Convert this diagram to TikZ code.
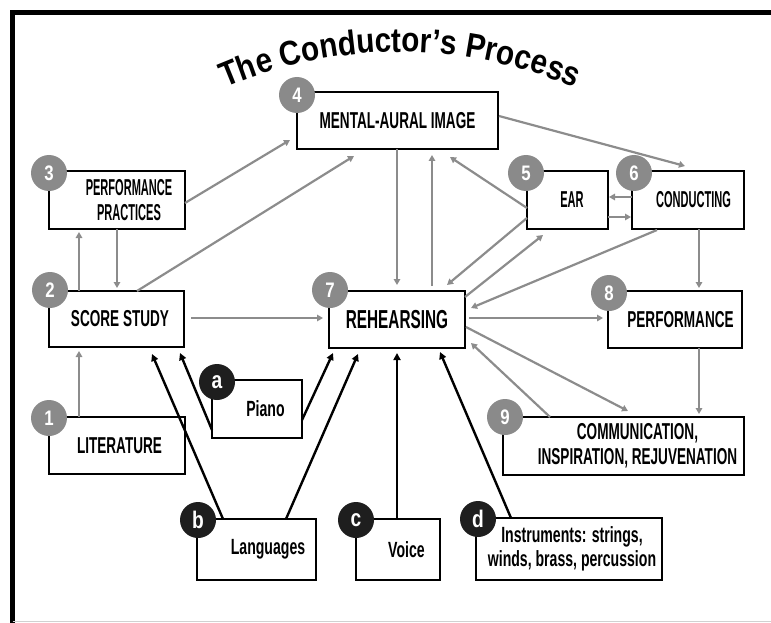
\documentclass[tikz,border=0pt]{standalone}
\usepackage{fontspec}
\newfontfamily\boxfont{Liberation Sans}[FakeStretch=0.59]
\newfontfamily\narrowfont{Liberation Sans}[FakeStretch=0.48]
\newfontfamily\lowfont{Liberation Sans}[FakeStretch=0.64]
\newfontfamily\numfont{Liberation Sans}[FakeStretch=0.8]
\newfontfamily\titlefont{Liberation Sans}[FakeStretch=0.86]
\usetikzlibrary{arrows.meta,calc,decorations.text}
\definecolor{linegray}{HTML}{8C8C8C}
\definecolor{badgegray}{HTML}{8A8A8A}
\definecolor{badgeblack}{HTML}{1E1E1E}

\begin{document}
\begin{tikzpicture}
  [x=1pt,y=-1pt,
   box/.style={draw,line width=1.5pt,inner sep=0pt,outer sep=0pt,align=center,
     font=\boxfont\bfseries\fontsize{23}{25}\selectfont},
   slim/.style={font=\narrowfont\bfseries\fontsize{23}{25}\selectfont},
   lowbox/.style={font=\lowfont\bfseries\fontsize{22}{24}\selectfont},
   num/.style={circle,fill=badgegray,text=white,inner sep=0pt,minimum size=36pt,
     font=\numfont\bfseries\fontsize{21}{21}\selectfont},
   letter/.style={num,fill=badgeblack,font=\numfont\bfseries\fontsize{24}{24}\selectfont},
   garrow/.style={draw=linegray,line width=2.2pt,-{Triangle[length=6pt,width=6.5pt]}},
   barrow/.style={draw=black,line width=2.4pt,-{Triangle[length=7pt,width=7pt]}}]
  \useasboundingbox (0,0) rectangle (771,623);

  % frame
  \draw[line width=5.5pt] (12.5,623) -- (12.5,12.5) -- (771,12.5);
  \draw[black!18,line width=1.5pt] (12.5,621.5) -- (771,621.5);

  % title
  \path[decorate,decoration={text along path,text align=center,
      text={|\titlefont\bfseries\fontsize{34.5}{36}\selectfont|The Conductor’s Process}}]
    (200,99.7) .. controls (325.7,36.1) and (474.3,36.1) .. (600,99.7);

  % boxes
  \node[box,minimum width=201pt,minimum height=57pt] (ma) at (397.5,120.5) {MENTAL-AURAL IMAGE};
  \node[box,slim,minimum width=136pt,minimum height=58pt] (pp) at (117,200)
    {\hspace*{24pt}PERFORMANCE\\\hspace*{24pt}PRACTICES};
  \node[box,slim,minimum width=81pt,minimum height=58pt] (ear) at (567.5,200) {\hspace*{9pt}EAR};
  \node[box,slim,minimum width=112pt,minimum height=58pt] (cond) at (688,200) {\hspace*{11pt}CONDUCTING};
  \node[box,minimum width=135pt,minimum height=56pt] (ss) at (116.5,319) {\hspace*{7pt}SCORE STUDY};
  \node[box,font=\boxfont\bfseries\fontsize{26}{28}\selectfont,minimum width=136pt,minimum height=57pt]
    (reh) at (397,319.5) {REHEARSING};
  \node[box,minimum width=134pt,minimum height=57pt] (perf) at (675,319.5) {\hspace*{11pt}PERFORMANCE};
  \node[box,minimum width=136pt,minimum height=57pt] (lit) at (117,445.5) {\hspace*{5pt}LITERATURE};
  \node[box,minimum width=241pt,minimum height=58pt] (comm) at (623.5,446)
    {\hspace*{28pt}COMMUNICATION,\\\hspace*{28pt}INSPIRATION, REJUVENATION};
  \node[box,lowbox,minimum width=90pt,minimum height=58pt] (piano) at (257,409) {\hspace*{17pt}Piano};
  \node[box,lowbox,minimum width=119pt,minimum height=61pt] (lang) at (256.5,549.5) {\hspace*{23pt}Languages};
  \node[box,lowbox,minimum width=84pt,minimum height=61pt] (voice) at (398,549.5) {\hspace*{17pt}Voice};
  \node[box,lowbox,minimum width=186pt,minimum height=62pt] (instr) at (569,549)
    {\hspace*{6pt}Instruments: strings,\\\hspace*{6pt}winds, brass, percussion};

  % gray connectors
  \draw[garrow] ($(pp.east)+(0,3)$) -- ($(ma.west)+(-7,19.5)$);
  \draw[garrow] ($(ss.north)+(20.5,0)$) -- ($(ma.south)+(-43.5,7)$);
  \draw[garrow] ($(ss.north)+(-37.5,0)$) -- ($(pp.south)+(-38,3)$);
  \draw[garrow] (pp.south) -- ($(ss.north)+(0.5,-3)$);
  \draw[garrow] ($(lit.north)+(-38,0)$) -- ($(ss.south)+(-37.5,4)$);
  \draw[garrow] ($(ss.east)+(7,-1)$) -- ($(reh.west)+(-6,-1.5)$);
  \draw[garrow] ($(ma.south)+(-0.5,0)$) -- ($(reh.north)+(0,-6)$);
  \draw[garrow] ($(reh.north)+(35,-5)$) -- ($(ma.south)+(34.5,6)$);
  \draw[garrow] ($(ear.west)+(0,8)$) -- ($(ma.south)+(52.5,8)$);
  \draw[garrow] ($(ma.east)+(1,-4.5)$) -- ($(cond.north)+(-3,-5)$);
  \draw[garrow] ($(cond.west)+(0,-3)$) -- ($(ear.east)+(1,-3)$);
  \draw[garrow] ($(ear.east)+(0,17)$) -- ($(cond.west)+(-1,17)$);
  \draw[garrow] ($(ear.west)+(0,18)$) -- ($(reh.north)+(50,-6)$);
  \draw[garrow] ($(reh.east)+(0,-22.5)$) -- ($(ear.south)+(-24.5,6)$);
  \draw[garrow] ($(cond.south)+(-31,1)$) -- ($(reh.east)+(6,-11.5)$);
  \draw[garrow] ($(cond.south)+(11,0)$) -- ($(perf.north)+(24,-3)$);
  \draw[garrow] ($(reh.east)+(4,-1.5)$) -- ($(perf.west)+(-5,-1.5)$);
  \draw[garrow] ($(reh.east)+(1,7.5)$) -- ($(comm.north)+(4.5,-6)$);
  \draw[garrow] ($(comm.north)+(-73.5,0)$) -- ($(reh.east)+(6,23.5)$);
  \draw[garrow] ($(perf.south)+(24,0)$) -- ($(comm.north)+(75.5,-3)$);

  % black connectors
  \draw[barrow] ($(piano.west)+(0,21)$) -- ($(ss.south)+(63.5,6)$);
  \draw[barrow] ($(piano.east)+(0,11)$) -- ($(reh.south)+(-64,5)$);
  \draw[barrow] ($(lang.north)+(-33.5,0)$) -- ($(ss.south)+(35.5,7)$);
  \draw[barrow] ($(lang.north)+(29.5,0)$) -- ($(reh.south)+(-39,6)$);
  \draw[barrow] ($(voice.north)+(-1,0)$) -- ($(reh.south)+(0,5)$);
  \draw[barrow] ($(instr.north)+(-58,0)$) -- ($(reh.south)+(43,4)$);

  % badges
  \node[num] (n1) at ($(lit.north west)+(0,1)$) {1};
  \node[num] (n2) at ($(ss.north west)+(1,-1)$) {2};
  \node[num] (n3) at ($(pp.north west)+(0,2)$) {3};
  \node[num] (n4) at ($(ma.north west)+(0,3)$) {4};
  \node[num] (n5) at ($(ear.north west)+(-1,2)$) {5};
  \node[num] (n6) at ($(cond.north west)+(2,2)$) {6};
  \node[num] (n7) at ($(reh.north west)+(1,-1)$) {7};
  \node[num] (n8) at ($(perf.north west)+(1,2)$) {8};
  \node[num] (n9) at ($(comm.north west)+(2,0)$) {9};
  \node[letter] (la) at ($(piano.north west)+(5,2)$) {a};
  \node[letter] (lb) at ($(lang.north west)+(1,1)$) {b};
  \node[letter] (lc) at ($(voice.north west)+(0,1)$) {c};
  \node[letter] (ld) at ($(instr.north west)+(2,1)$) {d};
\end{tikzpicture}
\end{document}
